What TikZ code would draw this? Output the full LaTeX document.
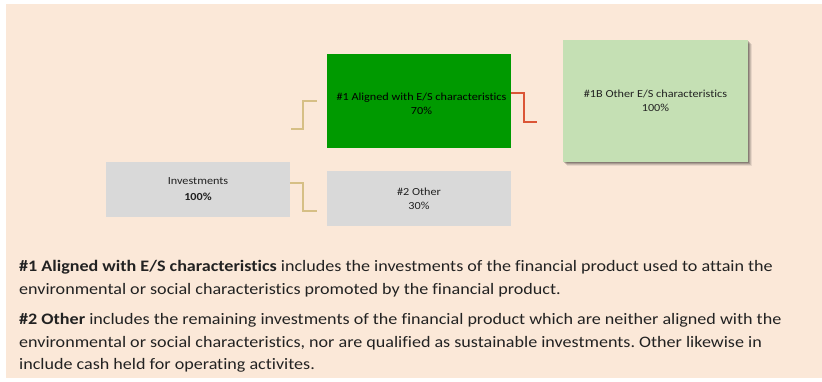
\documentclass[tikz,border=0pt]{standalone}
\usepackage{fontspec}
\setmainfont{Carlito}[FakeStretch=1.13,Ligatures=NoCommon]
\definecolor{bgpeach}{HTML}{FBE8D8}
\definecolor{gboxgreen}{HTML}{009A00}
\definecolor{lgreen}{HTML}{C5E0B4}
\definecolor{gboxgray}{HTML}{D9D9D9}
\definecolor{tanline}{HTML}{D6BF85}
\definecolor{redline}{HTML}{DB5536}
\definecolor{txt}{HTML}{222222}
\begin{document}
\frenchspacing
\begin{tikzpicture}[x=1pt,y=-1pt,
  box/.style={draw=none,rectangle,inner sep=0pt,align=center,text=txt,
    font=\fontsize{10.8}{14}\selectfont},
  conn/.style={line width=1.3pt},
  para/.style={anchor=base west,inner sep=0pt,text=txt,font=\fontsize{16}{20}\selectfont}]
\useasboundingbox (0,0) rectangle (822,381);
\fill[bgpeach] (6,4) rectangle (822,378);
% shadow for 1B
\foreach \o/\a in {4/0.08,3/0.12,2/0.16,1/0.2}{
  \fill[black,opacity=\a] (563+\o,40+\o) rectangle (748+\o,162+\o);}
\node[box,fill=gboxgray,minimum width=184pt,minimum height=55pt] (inv) at (198,189.5) {Investments\\[2pt]\textbf{100\%}};
\node[box,fill=gboxgreen,minimum width=184pt,minimum height=94pt] (al) at (419,101) {};
\node[box,text=black] (altxt) at (421.5,104) {\#1 Aligned with E/S characteristics\\70\%};
\node[box,fill=gboxgray,minimum width=184pt,minimum height=55pt] (oth) at (419,198.5) {\#2 Other\\30\%};
\node[box,fill=lgreen,minimum width=185pt,minimum height=122pt] (ob) at (655.5,101) {\#1B Other E/S characteristics\\100\%};
% connectors
\coordinate (lowend) at (317,211);
\coordinate (upstart) at (291,129);
\coordinate (upend) at (317,101);
\coordinate (redend) at (537,122);
\draw[tanline,conn] (inv.east |- 0,183) -| (303,197) |- (lowend);
\draw[tanline,conn] (upstart) -| (303,115) |- (upend);
\draw[redline,conn] (al.east |- 0,93) -| (524,107) |- (redend);
% paragraph
\node[para] (l1) at (19,271) {\textbf{\#1 Aligned with E/S characteristics} includes the investments of the financial product used to attain the};
\node[para] (l2) at (19,294) {environmental or social characteristics promoted by the financial product.};
\node[para] (l3) at (19,324) {\textbf{\#2 Other} includes the remaining investments of the financial product which are neither aligned with the};
\node[para] (l4) at (19,347) {environmental or social characteristics, nor are qualified as sustainable investments. Other likewise in};
\node[para] (l5) at (19,369) {include cash held for operating activites.};
\end{tikzpicture}
\end{document}
